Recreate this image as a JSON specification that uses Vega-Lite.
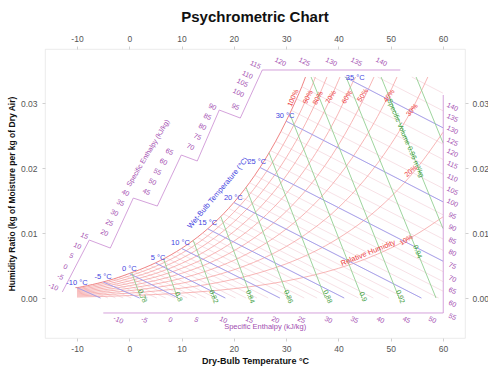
{
  "$schema": "https://vega.github.io/schema/vega-lite/v6.json",
  "width": 420,
  "height": 289,
  "autosize": {"type": "none"},
  "padding": {"left": 45, "top": 49, "right": 23, "bottom": 29},
  "title": {"text": "Psychrometric Chart", "fontSize": 15, "fontWeight": "bold", "color": "#111111", "anchor": "middle", "offset": 9, "font": "Liberation Sans"},
  "config": {"view": {"stroke": "#e6e6e6", "strokeWidth": 0.8}, "font": "Liberation Sans"},
  "datasets": {
    "sat": [
      {"x": -10.3, "y": 0.0016}, {"x": -10, "y": 0.0016}, {"x": -9, "y": 0.001748}, {"x": -8, "y": 0.00191}, {"x": -7, "y": 0.002084}, {"x": -6, "y": 0.002271}, {"x": -5, "y": 0.002476}, {"x": -4, "y": 0.002696}, {"x": -3, "y": 0.002936}, {"x": -2, "y": 0.003194}, {"x": -1, "y": 0.003473},
      {"x": 0, "y": 0.003775}, {"x": 1, "y": 0.00406}, {"x": 2, "y": 0.004364}, {"x": 3, "y": 0.004689}, {"x": 4, "y": 0.005034}, {"x": 5, "y": 0.005403}, {"x": 6, "y": 0.005796}, {"x": 7, "y": 0.006213}, {"x": 8, "y": 0.006657}, {"x": 9, "y": 0.007129},
      {"x": 10, "y": 0.007632}, {"x": 11, "y": 0.008166}, {"x": 12, "y": 0.008732}, {"x": 13, "y": 0.009334}, {"x": 14, "y": 0.009973}, {"x": 15, "y": 0.01065}, {"x": 16, "y": 0.011369}, {"x": 17, "y": 0.012131}, {"x": 18, "y": 0.012938}, {"x": 19, "y": 0.013794},
      {"x": 20, "y": 0.014699}, {"x": 21, "y": 0.015656}, {"x": 22, "y": 0.016667}, {"x": 23, "y": 0.017744}, {"x": 24, "y": 0.01888}, {"x": 25, "y": 0.020086}, {"x": 26, "y": 0.021355}, {"x": 27, "y": 0.022698}, {"x": 28, "y": 0.024115}, {"x": 29, "y": 0.025616},
      {"x": 30, "y": 0.02721}, {"x": 31, "y": 0.028882}, {"x": 32, "y": 0.030651}, {"x": 33, "y": 0.03252}, {"x": 33.7, "y": 0.034}
    ],
    "wetbulb": [
      {"twb": -10, "x": -10, "y": 0.0016, "x2": -5.5, "y2": 0},
      {"twb": -9, "x": -9, "y": 0.001748, "x2": -4.08, "y2": 0},
      {"twb": -8, "x": -8, "y": 0.00191, "x2": -2.63, "y2": 0},
      {"twb": -7, "x": -7, "y": 0.002084, "x2": -1.14, "y2": 0},
      {"twb": -6, "x": -6, "y": 0.002271, "x2": 0.39, "y2": 0},
      {"twb": -5, "x": -5, "y": 0.002476, "x2": 1.97, "y2": 0},
      {"twb": -4, "x": -4, "y": 0.002696, "x2": 3.58, "y2": 0},
      {"twb": -3, "x": -3, "y": 0.002936, "x2": 5.26, "y2": 0},
      {"twb": -2, "x": -2, "y": 0.003194, "x2": 6.98, "y2": 0},
      {"twb": -1, "x": -1, "y": 0.003473, "x2": 8.77, "y2": 0},
      {"twb": 0, "x": 0, "y": 0.003775, "x2": 9.39, "y2": 0},
      {"twb": 1, "x": 1, "y": 0.00406, "x2": 11.08, "y2": 0},
      {"twb": 2, "x": 2, "y": 0.004364, "x2": 12.83, "y2": 0},
      {"twb": 3, "x": 3, "y": 0.004689, "x2": 14.62, "y2": 0},
      {"twb": 4, "x": 4, "y": 0.005034, "x2": 16.47, "y2": 0},
      {"twb": 5, "x": 5, "y": 0.005403, "x2": 18.37, "y2": 0},
      {"twb": 6, "x": 6, "y": 0.005796, "x2": 20.33, "y2": 0},
      {"twb": 7, "x": 7, "y": 0.006213, "x2": 22.35, "y2": 0},
      {"twb": 8, "x": 8, "y": 0.006657, "x2": 24.43, "y2": 0},
      {"twb": 9, "x": 9, "y": 0.007129, "x2": 26.58, "y2": 0},
      {"twb": 10, "x": 10, "y": 0.007632, "x2": 28.8, "y2": 0},
      {"twb": 11, "x": 11, "y": 0.008166, "x2": 31.1, "y2": 0},
      {"twb": 12, "x": 12, "y": 0.008732, "x2": 33.47, "y2": 0},
      {"twb": 13, "x": 13, "y": 0.009334, "x2": 35.93, "y2": 0},
      {"twb": 14, "x": 14, "y": 0.009973, "x2": 38.47, "y2": 0},
      {"twb": 15, "x": 15, "y": 0.01065, "x2": 41.11, "y2": 0},
      {"twb": 16, "x": 16, "y": 0.011369, "x2": 43.85, "y2": 0},
      {"twb": 17, "x": 17, "y": 0.012131, "x2": 46.68, "y2": 0},
      {"twb": 18, "x": 18, "y": 0.012938, "x2": 49.63, "y2": 0},
      {"twb": 19, "x": 19, "y": 0.013794, "x2": 52.69, "y2": 0},
      {"twb": 20, "x": 20, "y": 0.014699, "x2": 55.87, "y2": 0},
      {"twb": 21, "x": 21, "y": 0.015656, "x2": 59.17, "y2": 0},
      {"twb": 22, "x": 22, "y": 0.016667, "x2": 60, "y2": 0.001063},
      {"twb": 23, "x": 23, "y": 0.017744, "x2": 60, "y2": 0.002536},
      {"twb": 24, "x": 24, "y": 0.01888, "x2": 60, "y2": 0.004072},
      {"twb": 25, "x": 25, "y": 0.020086, "x2": 60, "y2": 0.005674},
      {"twb": 26, "x": 26, "y": 0.021355, "x2": 60, "y2": 0.007341},
      {"twb": 27, "x": 27, "y": 0.022698, "x2": 60, "y2": 0.009084},
      {"twb": 28, "x": 28, "y": 0.024115, "x2": 60, "y2": 0.010901},
      {"twb": 29, "x": 29, "y": 0.025616, "x2": 60, "y2": 0.012804},
      {"twb": 30, "x": 30, "y": 0.02721, "x2": 60, "y2": 0.014799},
      {"twb": 31, "x": 31, "y": 0.028882, "x2": 60, "y2": 0.016872},
      {"twb": 32, "x": 32, "y": 0.030651, "x2": 60, "y2": 0.019045},
      {"twb": 33, "x": 33, "y": 0.03252, "x2": 60, "y2": 0.021318},
      {"twb": 34, "x": 35.19, "y": 0.034, "x2": 60, "y2": 0.023697},
      {"twb": 35, "x": 41.22, "y": 0.034, "x2": 60, "y2": 0.026192},
      {"twb": 36, "x": 47.51, "y": 0.034, "x2": 60, "y2": 0.028801},
      {"twb": 37, "x": 54.03, "y": 0.034, "x2": 60, "y2": 0.031513}
    ]
  },
  "encoding": {
    "x": {"field": "x", "type": "quantitative", "scale": {"domain": [-16.12, 64.21], "nice": false, "zero": false}, "axis": null},
    "y": {"field": "y", "type": "quantitative", "scale": {"domain": [-0.00615, 0.03831], "nice": false, "zero": false}, "axis": null}
  },
  "layer": [
    {
      "data": {"values": [{"x": -10}, {"x": -9}, {"x": -8}, {"x": -7}, {"x": -6}, {"x": -5}, {"x": -4}, {"x": -3}, {"x": -2}, {"x": -1}, {"x": 0}, {"x": 1}, {"x": 2}, {"x": 3}, {"x": 4}, {"x": 5}, {"x": 6}, {"x": 7}, {"x": 8}, {"x": 9}, {"x": 10}, {"x": 11}, {"x": 12}, {"x": 13}, {"x": 14}, {"x": 15}, {"x": 16}, {"x": 17}, {"x": 18}, {"x": 19}, {"x": 20}, {"x": 21}, {"x": 22}, {"x": 23}, {"x": 24}, {"x": 25}, {"x": 26}, {"x": 27}, {"x": 28}, {"x": 29}, {"x": 30}, {"x": 31}, {"x": 32}, {"x": 33}, {"x": 34}, {"x": 35}, {"x": 36}, {"x": 37}, {"x": 38}, {"x": 39}, {"x": 40}, {"x": 41}, {"x": 42}, {"x": 43}, {"x": 44}, {"x": 45}, {"x": 46}, {"x": 47}, {"x": 48}, {"x": 49}, {"x": 50}, {"x": 51}, {"x": 52}, {"x": 53}, {"x": 54}, {"x": 55}, {"x": 56}, {"x": 57}, {"x": 58}, {"x": 59}, {"x": 60}]},
      "mark": {"type": "rule", "stroke": "#c3dcc3", "strokeWidth": 0.55},
      "encoding": {
        "x": {"field": "x", "type": "quantitative", "scale": {"domain": [-16.12, 64.21], "nice": false, "zero": false},
              "axis": {"orient": "bottom", "values": [-10, 0, 10, 20, 30, 40, 50, 60], "labelExpr": "toString(datum.value)", "title": "Dry-Bulb Temperature °C", "titleFontSize": 9, "titleFontWeight": "bold", "titleColor": "#111111", "titlePadding": 4, "labelFontSize": 8.5, "labelColor": "#555555", "labelPadding": 3, "tickColor": "#d0d0d0", "tickSize": 3, "domain": false, "grid": false}},
        "y": {"datum": 0, "type": "quantitative", "axis": null},
        "y2": {"datum": 0.034}
      }
    },
    {
      "data": {"values": [{"y": 0}, {"y": 0.001}, {"y": 0.002}, {"y": 0.003}, {"y": 0.004}, {"y": 0.005}, {"y": 0.006}, {"y": 0.007}, {"y": 0.008}, {"y": 0.009}, {"y": 0.01}, {"y": 0.011}, {"y": 0.012}, {"y": 0.013}, {"y": 0.014}, {"y": 0.015}, {"y": 0.016}, {"y": 0.017}, {"y": 0.018}, {"y": 0.019}, {"y": 0.02}, {"y": 0.021}, {"y": 0.022}, {"y": 0.023}, {"y": 0.024}, {"y": 0.025}, {"y": 0.026}, {"y": 0.027}, {"y": 0.028}, {"y": 0.029}, {"y": 0.03}, {"y": 0.031}, {"y": 0.032}, {"y": 0.033}, {"y": 0.034}]},
      "mark": {"type": "rule", "stroke": "#cfe0e4", "strokeWidth": 0.5},
      "encoding": {
        "y": {"field": "y", "type": "quantitative", "scale": {"domain": [-0.00615, 0.03831], "nice": false, "zero": false},
              "axis": {"orient": "left", "values": [0, 0.01, 0.02, 0.03], "format": ".2f", "title": "Humidity Ratio (kg of Moisture per kg of Dry Air)", "titleFontSize": 8.5, "titleFontWeight": "bold", "titleColor": "#111111", "titlePadding": 4, "labelFontSize": 8.5, "labelColor": "#555555", "labelPadding": 5, "tickColor": "#d0d0d0", "tickSize": 3, "domain": false, "grid": false}},
        "x": {"datum": -10, "type": "quantitative", "axis": null},
        "x2": {"datum": 60}
      }
    },
    {
      "data": {"name": "wetbulb"},
      "mark": {"type": "rule", "stroke": "#eec3cc", "strokeWidth": 0.5},
      "encoding": {"x2": {"field": "x2"}, "y2": {"field": "y2"}}
    },
    {
      "data": {"name": "sat"},
      "mark": {"type": "area", "fill": "#ffffff", "opacity": 1},
      "encoding": {
        "x": {"field": "x", "type": "quantitative", "scale": {"domain": [-16.12, 64.21], "nice": false, "zero": false},
              "axis": {"orient": "top", "values": [-10, 0, 10, 20, 30, 40, 50, 60], "labelExpr": "toString(datum.value)", "title": null, "labelFontSize": 8.5, "labelColor": "#555555", "labelPadding": 3, "tickColor": "#d0d0d0", "tickSize": 3, "domain": false, "grid": false}},
        "y": {"field": "y", "type": "quantitative", "scale": {"domain": [-0.00615, 0.03831], "nice": false, "zero": false},
              "axis": {"orient": "right", "values": [0, 0.01, 0.02, 0.03], "format": ".2f", "title": null, "labelFontSize": 8.5, "labelColor": "#555555", "labelPadding": 4, "tickColor": "#d0d0d0", "tickSize": 3, "domain": false, "grid": false}},
        "y2": {"datum": 0.0342}
      }
    },
    {
      "data": {"values": [
        {"rh": 90, "x": -10, "y": 0.00144}, {"rh": 90, "x": -5, "y": 0.002228}, {"rh": 90, "x": 0, "y": 0.003395}, {"rh": 90, "x": 5, "y": 0.004858}, {"rh": 90, "x": 10, "y": 0.006861}, {"rh": 90, "x": 15, "y": 0.009569}, {"rh": 90, "x": 20, "y": 0.013198}, {"rh": 90, "x": 25, "y": 0.018019}, {"rh": 90, "x": 30, "y": 0.024382}, {"rh": 90, "x": 32, "y": 0.027444}, {"rh": 90, "x": 34, "y": 0.030873}, {"rh": 90, "x": 35, "y": 0.032733}, {"rh": 90, "x": 35.6, "y": 0.034},
        {"rh": 80, "x": -10, "y": 0.001279}, {"rh": 80, "x": -5, "y": 0.001979}, {"rh": 80, "x": 0, "y": 0.003016}, {"rh": 80, "x": 5, "y": 0.004315}, {"rh": 80, "x": 10, "y": 0.006091}, {"rh": 80, "x": 15, "y": 0.008491}, {"rh": 80, "x": 20, "y": 0.011704}, {"rh": 80, "x": 25, "y": 0.015966}, {"rh": 80, "x": 30, "y": 0.021579}, {"rh": 80, "x": 35, "y": 0.028927}, {"rh": 80, "x": 37, "y": 0.032447}, {"rh": 80, "x": 37.8, "y": 0.034},
        {"rh": 70, "x": -10, "y": 0.001119}, {"rh": 70, "x": -5, "y": 0.001731}, {"rh": 70, "x": 0, "y": 0.002638}, {"rh": 70, "x": 5, "y": 0.003772}, {"rh": 70, "x": 10, "y": 0.005323}, {"rh": 70, "x": 15, "y": 0.007417}, {"rh": 70, "x": 20, "y": 0.010217}, {"rh": 70, "x": 25, "y": 0.013925}, {"rh": 70, "x": 30, "y": 0.0188}, {"rh": 70, "x": 35, "y": 0.025165}, {"rh": 70, "x": 40, "y": 0.033437}, {"rh": 70, "x": 40.3, "y": 0.034},
        {"rh": 60, "x": -10, "y": 0.000959}, {"rh": 60, "x": -5, "y": 0.001483}, {"rh": 60, "x": 0, "y": 0.002259}, {"rh": 60, "x": 5, "y": 0.003231}, {"rh": 60, "x": 10, "y": 0.004557}, {"rh": 60, "x": 15, "y": 0.006347}, {"rh": 60, "x": 20, "y": 0.008737}, {"rh": 60, "x": 25, "y": 0.011898}, {"rh": 60, "x": 30, "y": 0.016045}, {"rh": 60, "x": 35, "y": 0.021446}, {"rh": 60, "x": 40, "y": 0.028442}, {"rh": 60, "x": 43, "y": 0.033578}, {"rh": 60, "x": 43.3, "y": 0.034},
        {"rh": 50, "x": -10, "y": 0.000799}, {"rh": 50, "x": -5, "y": 0.001236}, {"rh": 50, "x": 0, "y": 0.001882}, {"rh": 50, "x": 5, "y": 0.00269}, {"rh": 50, "x": 10, "y": 0.003793}, {"rh": 50, "x": 15, "y": 0.00528}, {"rh": 50, "x": 20, "y": 0.007264}, {"rh": 50, "x": 25, "y": 0.009883}, {"rh": 50, "x": 30, "y": 0.013314}, {"rh": 50, "x": 35, "y": 0.01777}, {"rh": 50, "x": 40, "y": 0.023522}, {"rh": 50, "x": 45, "y": 0.030912}, {"rh": 50, "x": 46.8, "y": 0.034},
        {"rh": 40, "x": -10, "y": 0.000639}, {"rh": 40, "x": -5, "y": 0.000988}, {"rh": 40, "x": 0, "y": 0.001504}, {"rh": 40, "x": 5, "y": 0.00215}, {"rh": 40, "x": 10, "y": 0.003031}, {"rh": 40, "x": 15, "y": 0.004217}, {"rh": 40, "x": 20, "y": 0.005797}, {"rh": 40, "x": 25, "y": 0.007882}, {"rh": 40, "x": 30, "y": 0.010605}, {"rh": 40, "x": 35, "y": 0.014135}, {"rh": 40, "x": 40, "y": 0.018677}, {"rh": 40, "x": 45, "y": 0.024486}, {"rh": 40, "x": 50, "y": 0.031882}, {"rh": 40, "x": 51.2, "y": 0.034},
        {"rh": 30, "x": -10, "y": 0.000479}, {"rh": 30, "x": -5, "y": 0.000741}, {"rh": 30, "x": 0, "y": 0.001128}, {"rh": 30, "x": 5, "y": 0.001611}, {"rh": 30, "x": 10, "y": 0.00227}, {"rh": 30, "x": 15, "y": 0.003157}, {"rh": 30, "x": 20, "y": 0.004338}, {"rh": 30, "x": 25, "y": 0.005893}, {"rh": 30, "x": 30, "y": 0.00792}, {"rh": 30, "x": 35, "y": 0.010541}, {"rh": 30, "x": 40, "y": 0.013903}, {"rh": 30, "x": 45, "y": 0.018186}, {"rh": 30, "x": 50, "y": 0.023609}, {"rh": 30, "x": 55, "y": 0.030446}, {"rh": 30, "x": 57.1, "y": 0.034},
        {"rh": 20, "x": -10, "y": 0.000319}, {"rh": 20, "x": -5, "y": 0.000494}, {"rh": 20, "x": 0, "y": 0.000751}, {"rh": 20, "x": 5, "y": 0.001073}, {"rh": 20, "x": 10, "y": 0.001512}, {"rh": 20, "x": 15, "y": 0.002101}, {"rh": 20, "x": 20, "y": 0.002885}, {"rh": 20, "x": 25, "y": 0.003916}, {"rh": 20, "x": 30, "y": 0.005258}, {"rh": 20, "x": 35, "y": 0.006988}, {"rh": 20, "x": 40, "y": 0.0092}, {"rh": 20, "x": 45, "y": 0.012007}, {"rh": 20, "x": 50, "y": 0.015543}, {"rh": 20, "x": 55, "y": 0.019972}, {"rh": 20, "x": 60, "y": 0.025492},
        {"rh": 10, "x": -10, "y": 0.00016}, {"rh": 10, "x": -5, "y": 0.000247}, {"rh": 10, "x": 0, "y": 0.000375}, {"rh": 10, "x": 5, "y": 0.000536}, {"rh": 10, "x": 10, "y": 0.000755}, {"rh": 10, "x": 15, "y": 0.001049}, {"rh": 10, "x": 20, "y": 0.001439}, {"rh": 10, "x": 25, "y": 0.001952}, {"rh": 10, "x": 30, "y": 0.002618}, {"rh": 10, "x": 35, "y": 0.003474}, {"rh": 10, "x": 40, "y": 0.004566}, {"rh": 10, "x": 45, "y": 0.005946}, {"rh": 10, "x": 50, "y": 0.007675}, {"rh": 10, "x": 55, "y": 0.009828}, {"rh": 10, "x": 60, "y": 0.01249}
      ]},
      "mark": {"type": "line", "stroke": "#f5a3a3", "strokeWidth": 0.8, "interpolate": "monotone"},
      "encoding": {"detail": {"field": "rh", "type": "nominal"}}
    },
    {
      "data": {"name": "sat"},
      "mark": {"type": "line", "stroke": "#f08484", "strokeWidth": 1, "interpolate": "monotone"}
    },
    {
      "data": {"name": "wetbulb"},
      "transform": [{"filter": {"field": "twb", "oneOf": [-10, -5, 0, 5, 10, 15, 20, 25, 30, 35]}}],
      "mark": {"type": "rule", "stroke": "#9c9cee", "strokeWidth": 0.9},
      "encoding": {"x2": {"field": "x2"}, "y2": {"field": "y2"}}
    },
    {
      "data": {"values": [
        {"v": 0.78, "x": 0.47, "y": 0.00391, "x2": 2.19, "y2": 0},
        {"v": 0.8, "x": 6.55, "y": 0.006025, "x2": 9.25, "y2": 0},
        {"v": 0.82, "x": 12.23, "y": 0.00887, "x2": 16.31, "y2": 0},
        {"v": 0.84, "x": 17.5, "y": 0.01254, "x2": 23.37, "y2": 0},
        {"v": 0.86, "x": 22.33, "y": 0.01703, "x2": 30.43, "y2": 0},
        {"v": 0.88, "x": 26.73, "y": 0.02234, "x2": 37.49, "y2": 0},
        {"v": 0.9, "x": 30.69, "y": 0.02836, "x2": 44.55, "y2": 0},
        {"v": 0.92, "x": 34.77, "y": 0.034, "x2": 51.61, "y2": 0},
        {"v": 0.94, "x": 41.47, "y": 0.034, "x2": 58.67, "y2": 0},
        {"v": 0.96, "x": 48.16, "y": 0.034, "x2": 60, "y2": 0.010692},
        {"v": 0.98, "x": 54.86, "y": 0.034, "x2": 60, "y2": 0.023873}
      ]},
      "mark": {"type": "rule", "stroke": "#93cf93", "strokeWidth": 0.9},
      "encoding": {"x2": {"field": "x2"}, "y2": {"field": "y2"}}
    },
    {
      "data": {"values": [
        {"part": "s1", "x": -12.81, "y": 0.00092, "x2": -7.65, "y2": 0.00892},
        {"part": "c1", "x": -7.65, "y": 0.00892, "x2": -3.63, "y2": 0.00769},
        {"part": "s2", "x": -3.63, "y": 0.00769, "x2": 0.77, "y2": 0.01538},
        {"part": "c2", "x": 0.77, "y": 0.01538, "x2": 5.36, "y2": 0.01415},
        {"part": "s3", "x": 5.36, "y": 0.01415, "x2": 9.95, "y2": 0.022},
        {"part": "c3", "x": 9.95, "y": 0.022, "x2": 13.0, "y2": 0.02108},
        {"part": "s4", "x": 13.0, "y": 0.02108, "x2": 17.21, "y2": 0.02892},
        {"part": "c4", "x": 17.21, "y": 0.02892, "x2": 21.23, "y2": 0.02769},
        {"part": "s5", "x": 21.23, "y": 0.02769, "x2": 25.44, "y2": 0.03508},
        {"part": "top", "x": 25.44, "y": 0.03508, "x2": 51.83, "y2": 0.03508},
        {"part": "right", "x": 60.05, "y": -0.0023, "x2": 60.05, "y2": 0.03123},
        {"part": "bottom", "x": -4.97, "y": -0.0023, "x2": 60.05, "y2": -0.0023}
      ]},
      "mark": {"type": "rule", "stroke": "#c98ad2", "strokeWidth": 0.8},
      "encoding": {"x2": {"field": "x2"}, "y2": {"field": "y2"}}
    },
    {
      "data": {"values": [{"x": -4.26}, {"x": -3.26}, {"x": -2.26}, {"x": -1.26}, {"x": -0.26}, {"x": 0.74}, {"x": 1.74}, {"x": 2.74}, {"x": 3.74}, {"x": 4.74}, {"x": 5.74}, {"x": 6.74}, {"x": 7.74}, {"x": 8.74}, {"x": 9.74}, {"x": 10.74}, {"x": 11.74}, {"x": 12.74}, {"x": 13.74}, {"x": 14.74}, {"x": 15.74}, {"x": 16.74}, {"x": 17.74}, {"x": 18.74}, {"x": 19.74}, {"x": 20.74}, {"x": 21.74}, {"x": 22.74}, {"x": 23.74}, {"x": 24.74}, {"x": 25.74}, {"x": 26.74}, {"x": 27.74}, {"x": 28.74}, {"x": 29.74}, {"x": 30.74}, {"x": 31.74}, {"x": 32.74}, {"x": 33.74}, {"x": 34.74}, {"x": 35.74}, {"x": 36.74}, {"x": 37.74}, {"x": 38.74}, {"x": 39.74}, {"x": 40.74}, {"x": 41.74}, {"x": 42.74}, {"x": 43.74}, {"x": 44.74}, {"x": 45.74}, {"x": 46.74}, {"x": 47.74}, {"x": 48.74}, {"x": 49.74}, {"x": 50.74}, {"x": 51.74}, {"x": 52.74}, {"x": 53.74}, {"x": 54.74}, {"x": 55.74}, {"x": 56.74}, {"x": 57.74}, {"x": 58.74}, {"x": 59.74}]},
      "mark": {"type": "tick", "orient": "vertical", "color": "#c98ad2", "size": 3, "thickness": 0.6, "yOffset": -1.5},
      "encoding": {"y": {"datum": -0.0023, "type": "quantitative", "axis": null}}
    },
    {
      "data": {"values": [{"y": -0.002052}, {"y": -0.001669}, {"y": -0.001286}, {"y": -0.000903}, {"y": -0.000521}, {"y": -0.000138}, {"y": 0.000245}, {"y": 0.000628}, {"y": 0.001011}, {"y": 0.001393}, {"y": 0.001776}, {"y": 0.002159}, {"y": 0.002542}, {"y": 0.002924}, {"y": 0.003307}, {"y": 0.00369}, {"y": 0.004073}, {"y": 0.004456}, {"y": 0.004838}, {"y": 0.005221}, {"y": 0.005604}, {"y": 0.005987}, {"y": 0.006369}, {"y": 0.006752}, {"y": 0.007135}, {"y": 0.007518}, {"y": 0.0079}, {"y": 0.008283}, {"y": 0.008666}, {"y": 0.009049}, {"y": 0.009432}, {"y": 0.009814}, {"y": 0.010197}, {"y": 0.01058}, {"y": 0.010963}, {"y": 0.011345}, {"y": 0.011728}, {"y": 0.012111}, {"y": 0.012494}, {"y": 0.012877}, {"y": 0.013259}, {"y": 0.013642}, {"y": 0.014025}, {"y": 0.014408}, {"y": 0.01479}, {"y": 0.015173}, {"y": 0.015556}, {"y": 0.015939}, {"y": 0.016321}, {"y": 0.016704}, {"y": 0.017087}, {"y": 0.01747}, {"y": 0.017853}, {"y": 0.018235}, {"y": 0.018618}, {"y": 0.019001}, {"y": 0.019384}, {"y": 0.019766}, {"y": 0.020149}, {"y": 0.020532}, {"y": 0.020915}, {"y": 0.021297}, {"y": 0.02168}, {"y": 0.022063}, {"y": 0.022446}, {"y": 0.022829}, {"y": 0.023211}, {"y": 0.023594}, {"y": 0.023977}, {"y": 0.02436}, {"y": 0.024742}, {"y": 0.025125}, {"y": 0.025508}, {"y": 0.025891}, {"y": 0.026273}, {"y": 0.026656}, {"y": 0.027039}, {"y": 0.027422}, {"y": 0.027805}, {"y": 0.028187}, {"y": 0.02857}, {"y": 0.028953}, {"y": 0.029336}, {"y": 0.029718}, {"y": 0.030101}, {"y": 0.030484}]},
      "mark": {"type": "tick", "orient": "horizontal", "color": "#c98ad2", "size": 3, "thickness": 0.6, "xOffset": -1.5},
      "encoding": {"x": {"datum": 60.05, "type": "quantitative", "axis": null}}
    },
    {
      "data": {"values": [{"x": 27.31}, {"x": 28.25}, {"x": 29.18}, {"x": 30.11}, {"x": 31.05}, {"x": 31.98}, {"x": 32.91}, {"x": 33.85}, {"x": 34.78}, {"x": 35.71}, {"x": 36.65}, {"x": 37.58}, {"x": 38.51}, {"x": 39.45}, {"x": 40.38}, {"x": 41.31}, {"x": 42.25}, {"x": 43.18}, {"x": 44.11}, {"x": 45.05}, {"x": 45.98}, {"x": 46.91}, {"x": 47.85}, {"x": 48.78}, {"x": 49.71}, {"x": 50.65}, {"x": 51.58}]},
      "mark": {"type": "tick", "orient": "vertical", "color": "#c98ad2", "size": 3, "thickness": 0.6, "yOffset": 1.5},
      "encoding": {"y": {"datum": 0.03508, "type": "quantitative", "axis": null}}
    },
    {
      "data": {"values": [
        {"label": "-10 °C", "x": -10, "y": 0.0023}, {"label": "-5 °C", "x": -5, "y": 0.0032}, {"label": "0 °C", "x": 0, "y": 0.0045},
        {"label": "5 °C", "x": 5.5, "y": 0.0062}, {"label": "10 °C", "x": 9.8, "y": 0.0085}, {"label": "15 °C", "x": 15, "y": 0.0115},
        {"label": "20 °C", "x": 19.9, "y": 0.0154}, {"label": "25 °C", "x": 24.4, "y": 0.0209}, {"label": "30 °C", "x": 29.8, "y": 0.028}, {"label": "35 °C", "x": 43.2, "y": 0.0338}
      ]},
      "mark": {"type": "text", "color": "#4545e0", "fontSize": 7.5, "align": "center", "baseline": "middle"},
      "encoding": {"text": {"field": "label"}}
    },
    {
      "data": {"values": [
        {"rh": 100, "label": "100%", "x": 31.36, "y": 0.03077}, {"rh": 90, "label": "90%", "x": 34.2, "y": 0.0309}, {"rh": 80, "label": "80%", "x": 36.1, "y": 0.03077},
        {"rh": 70, "label": "70%", "x": 38.6, "y": 0.0309}, {"rh": 60, "label": "60%", "x": 41.7, "y": 0.0309}, {"rh": 50, "label": "50%", "x": 44.7, "y": 0.0312},
        {"rh": 40, "label": "40%", "x": 49.7, "y": 0.0311}, {"rh": 30, "label": "30%", "x": 54.1, "y": 0.0289}, {"rh": 20, "label": "20%", "x": 53.9, "y": 0.0195},
        {"rh": 10, "label": "10%", "x": 53.0, "y": 0.0089}
      ]},
      "mark": {"type": "text", "color": "#ec4040", "fontSize": 7, "align": "center", "baseline": "middle"},
      "encoding": {
        "text": {"field": "label"},
        "angle": {"field": "rh", "type": "quantitative", "scale": {"domain": [10, 30, 40, 100], "range": [-32, -50, -54, -66]}, "legend": null}
      }
    },
    {
      "data": {"values": [
        {"label": "0.78", "x": 2.5, "y": 0.0003}, {"label": "0.8", "x": 9.4, "y": 0.0002}, {"label": "0.82", "x": 16.1, "y": 0.0002},
        {"label": "0.84", "x": 23.1, "y": 0.0002}, {"label": "0.86", "x": 30.4, "y": 0.0002}, {"label": "0.88", "x": 37.9, "y": 0.0002},
        {"label": "0.9", "x": 44.7, "y": 0.0002}, {"label": "0.92", "x": 51.8, "y": 0.0002}, {"label": "0.94", "x": 55.1, "y": 0.0071}
      ]},
      "mark": {"type": "text", "color": "#3e9e3e", "fontSize": 7, "align": "center", "baseline": "middle", "angle": 68},
      "encoding": {"text": {"field": "label"}}
    },
    {
      "data": {"values": [{"label": "Specific Volume 0.96 m³/kg", "x": 52.8, "y": 0.0246}]},
      "mark": {"type": "text", "color": "#3e9e3e", "fontSize": 7, "align": "center", "baseline": "middle", "angle": 67},
      "encoding": {"text": {"field": "label"}}
    },
    {
      "data": {"values": [
        {"label": "-10", "x": -14.54, "y": 0.00169}, {"label": "-5", "x": -13.2, "y": 0.00323}, {"label": "0", "x": -12.24, "y": 0.00477}, {"label": "5", "x": -11.09, "y": 0.00646}, {"label": "10", "x": -9.95, "y": 0.008}, {"label": "15", "x": -8.61, "y": 0.00954},
        {"label": "20", "x": -4.78, "y": 0.01}, {"label": "25", "x": -3.83, "y": 0.01154}, {"label": "30", "x": -2.87, "y": 0.01308}, {"label": "35", "x": -1.72, "y": 0.01462}, {"label": "40", "x": -0.77, "y": 0.01615},
        {"label": "45", "x": 3.25, "y": 0.01631}, {"label": "50", "x": 4.4, "y": 0.01785}, {"label": "55", "x": 5.36, "y": 0.01938}, {"label": "60", "x": 6.5, "y": 0.02092}, {"label": "65", "x": 7.65, "y": 0.02246},
        {"label": "70", "x": 11.67, "y": 0.02323}, {"label": "75", "x": 13.01, "y": 0.02477}, {"label": "80", "x": 13.96, "y": 0.02631}, {"label": "85", "x": 14.92, "y": 0.02785}, {"label": "90", "x": 15.87, "y": 0.02938},
        {"label": "95", "x": 20.27, "y": 0.02938}, {"label": "100", "x": 20.85, "y": 0.03154}, {"label": "105", "x": 21.61, "y": 0.03308}, {"label": "110", "x": 22.57, "y": 0.03431}, {"label": "115", "x": 24.1, "y": 0.03585},
        {"label": "120", "x": 28.88, "y": 0.03631}, {"label": "125", "x": 33.47, "y": 0.03631}, {"label": "130", "x": 38.63, "y": 0.03631}, {"label": "135", "x": 43.42, "y": 0.03631}, {"label": "140", "x": 48.2, "y": 0.03631},
        {"label": "55", "x": 61.78, "y": -0.00292}, {"label": "60", "x": 61.78, "y": -0.00092}, {"label": "65", "x": 61.78, "y": 0.00108}, {"label": "70", "x": 61.78, "y": 0.00292}, {"label": "75", "x": 61.78, "y": 0.00492}, {"label": "80", "x": 61.78, "y": 0.00692},
        {"label": "85", "x": 61.78, "y": 0.00877}, {"label": "90", "x": 61.78, "y": 0.01077}, {"label": "95", "x": 61.78, "y": 0.01262}, {"label": "100", "x": 61.78, "y": 0.01462}, {"label": "105", "x": 61.78, "y": 0.01646}, {"label": "110", "x": 61.78, "y": 0.01846},
        {"label": "115", "x": 61.78, "y": 0.02046}, {"label": "120", "x": 61.78, "y": 0.02231}, {"label": "125", "x": 61.78, "y": 0.024}, {"label": "130", "x": 61.78, "y": 0.02585}, {"label": "135", "x": 61.78, "y": 0.02769}, {"label": "140", "x": 61.78, "y": 0.02938},
        {"label": "-10", "x": -2.1, "y": -0.00338}, {"label": "-5", "x": 2.87, "y": -0.00338}, {"label": "0", "x": 7.84, "y": -0.00338}, {"label": "5", "x": 12.81, "y": -0.00338}, {"label": "10", "x": 17.98, "y": -0.00338}, {"label": "15", "x": 22.95, "y": -0.00338}, {"label": "20", "x": 27.92, "y": -0.00338},
        {"label": "25", "x": 32.9, "y": -0.00338}, {"label": "30", "x": 38.06, "y": -0.00338}, {"label": "35", "x": 43.03, "y": -0.00338}, {"label": "40", "x": 48.0, "y": -0.00338}, {"label": "45", "x": 52.98, "y": -0.00338}, {"label": "50", "x": 57.95, "y": -0.00338}
      ]},
      "mark": {"type": "text", "color": "#a24cb0", "fontSize": 7, "align": "center", "baseline": "middle", "angle": 25},
      "encoding": {"text": {"field": "label"}}
    },
    {
      "data": {"values": [{"label": "Specific Enthalpy (kJ/kg)", "x": 3.63, "y": 0.0223}]},
      "mark": {"type": "text", "color": "#a24cb0", "fontSize": 7, "align": "center", "baseline": "middle", "angle": -59},
      "encoding": {"text": {"field": "label"}}
    },
    {
      "data": {"values": [{"label": "Specific Enthalpy (kJ/kg)", "x": 26.0, "y": -0.00446}]},
      "mark": {"type": "text", "color": "#a24cb0", "fontSize": 7.5, "align": "center", "baseline": "middle"},
      "encoding": {"text": {"field": "label"}}
    },
    {
      "data": {"values": [{"label": "Wet-Bulb Temperature (°C)", "x": 17.0, "y": 0.01615}]},
      "mark": {"type": "text", "color": "#4545e0", "fontSize": 7.5, "align": "center", "baseline": "middle", "angle": -50},
      "encoding": {"text": {"field": "label"}}
    },
    {
      "data": {"values": [{"label": "Relative Humidity", "x": 45.7, "y": 0.0069}]},
      "mark": {"type": "text", "color": "#ec4040", "fontSize": 7.5, "align": "center", "baseline": "middle", "angle": -22},
      "encoding": {"text": {"field": "label"}}
    }
  ]
}
